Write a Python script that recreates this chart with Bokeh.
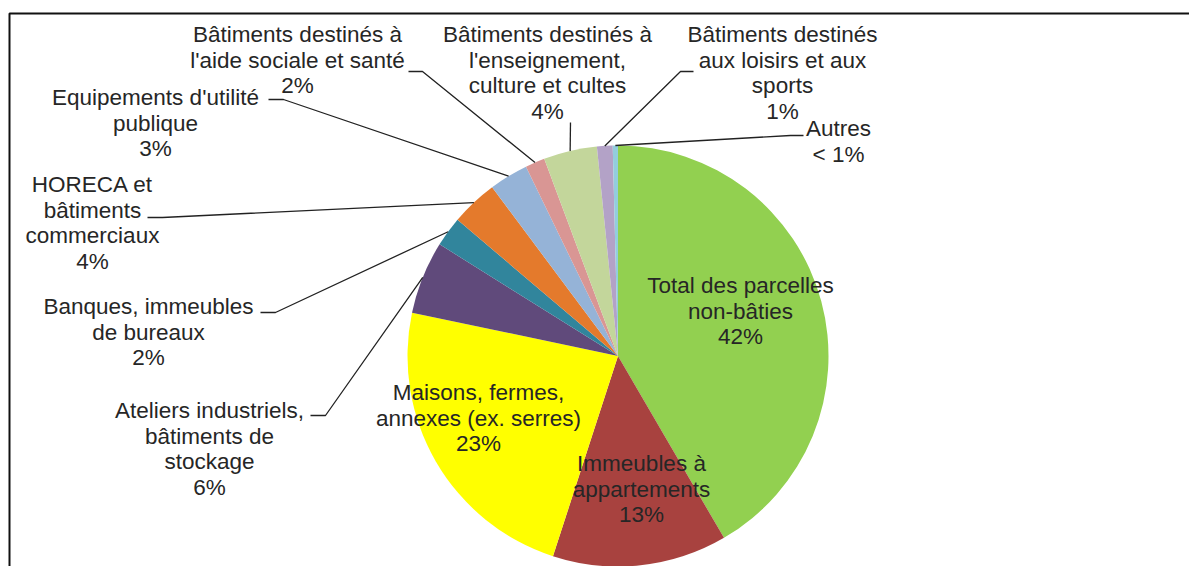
import math
from bokeh.plotting import figure
from bokeh.models import Range1d
from bokeh.core.properties import value
from bokeh.embed import file_html
from bokeh.resources import INLINE

# ---------------- data ----------------
categories = [
    "Total des parcelles non-bâties",
    "Immeubles à appartements",
    "Maisons, fermes, annexes (ex. serres)",
    "Ateliers industriels, bâtiments de stockage",
    "Banques, immeubles de bureaux",
    "HORECA et bâtiments commerciaux",
    "Equipements d'utilité publique",
    "Bâtiments destinés à l'aide sociale et santé",
    "Bâtiments destinés à l'enseignement, culture et cultes",
    "Bâtiments destinés aux loisirs et aux sports",
    "Autres",
]
shares = [41.6, 13.4, 23.3, 5.6, 2.3, 3.6, 3.0, 1.5, 4.1, 1.2, 0.4]
label_lines = [
    ["Total des parcelles", "non-bâties"],
    ["Immeubles à", "appartements"],
    ["Maisons, fermes,", "annexes (ex. serres)"],
    ["Ateliers industriels,", "bâtiments de", "stockage"],
    ["Banques, immeubles", "de bureaux"],
    ["HORECA et", "bâtiments", "commerciaux"],
    ["Equipements d'utilité", "publique"],
    ["Bâtiments destinés à", "l'aide sociale et santé"],
    ["Bâtiments destinés à", "l'enseignement,", "culture et cultes"],
    ["Bâtiments destinés", "aux loisirs et aux", "sports"],
    ["Autres"],
]
colors = ["#92D050", "#A8423F", "#FFFF00", "#604A7B", "#31859C", "#E47A2C",
          "#95B3D7", "#D99694", "#C3D69B", "#B3A2C7", "#93CDDD"]

# ---------------- layout (page pixel coordinates) ----------------
W, H = 1189, 566
OX, OY = 0, 0
CX, CY, R = 617.5, 355.5, 210.5
LINE_GAP = 25.5
FONT = "Liberation Sans"
FSIZE = "22.5px"
TXT = "#262626"

# label anchor: (center x, y of first line)
label_pos = [(740, 285), (641, 463), (478, 392), (209, 410), (148, 306),
             (92, 184), (155, 97), (297, 34), (547, 34), (782, 34), (838, 128)]
# leader elbows (None = label inside the pie)
leader_elbows = [None, None, None,
                 [(310, 415), (325, 415)],
                 [(260, 312), (275, 312)],
                 [(147, 217), (162, 217)],
                 [(268, 99), (283, 99)],
                 [(408, 71), (422, 71)],
                 [(570, 122)],
                 [(693, 71), (680, 71)],
                 [(803, 135), (790, 135)]]


def dx(px):
    return px - OX


def dy(py):
    return (H + OY) - py


p = figure(width=W, height=H, x_range=Range1d(0, W), y_range=Range1d(0, H),
           output_backend="svg", toolbar_location=None,
           x_axis_location=None, y_axis_location=None, min_border=0)
p.grid.visible = False
p.outline_line_color = None
p.background_fill_color = "white"
p.border_fill_color = "white"

# frame (left and top edges visible)
p.line([dx(9), dx(9), dx(1200)], [dy(600), dy(13), dy(13)],
       line_color="#111111", line_width=2)

# slices, clockwise from 12 o'clock
total = sum(shares)
cum = 0.0
starts, ends, mids = [], [], []
for s in shares:
    a0 = cum / total
    cum += s
    a1 = cum / total
    starts.append(math.pi / 2 - 2 * math.pi * a1)
    ends.append(math.pi / 2 - 2 * math.pi * a0)
    mids.append(2 * math.pi * (a0 + a1) / 2)   # clockwise from top

p.wedge(x=[dx(CX)] * len(shares), y=[dy(CY)] * len(shares), radius=R,
        start_angle=starts, end_angle=ends, direction="anticlock",
        fill_color=colors, line_color=None)

# leader lines
lx, ly = [], []
for i, el in enumerate(leader_elbows):
    if el is None:
        continue
    ex = CX + R * math.sin(mids[i])
    ey = CY - R * math.cos(mids[i])
    pts = list(el) + [(ex, ey)]
    lx.append([dx(a) for a, b in pts])
    ly.append([dy(b) for a, b in pts])
p.multi_line(lx, ly, line_color="#222222", line_width=1.3)

# labels
tx, ty, tt = [], [], []
for i, lines in enumerate(label_lines):
    pct = f"{round(shares[i])}%" if shares[i] >= 1 else "< 1%"
    allines = lines + [pct]
    cx0, y0 = label_pos[i]
    for k, t in enumerate(allines):
        tx.append(dx(cx0))
        ty.append(dy(y0 + k * LINE_GAP))
        tt.append(t)
p.text(x=tx, y=ty, text=tt, text_font=value(FONT), text_font_size=value(FSIZE),
       text_color=TXT, text_align="center", text_baseline="middle")

open("out.html", "w").write(file_html(p, INLINE))
